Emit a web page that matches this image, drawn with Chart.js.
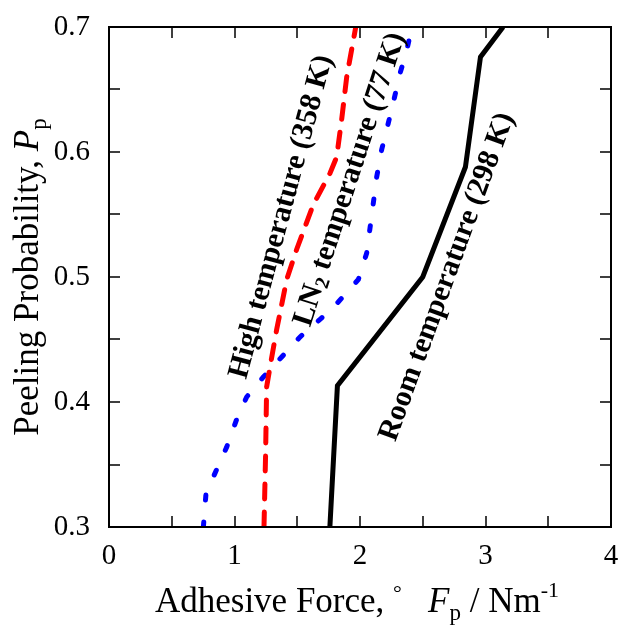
<!DOCTYPE html>
<html>
<head>
<meta charset="utf-8">
<script src="https://cdn.jsdelivr.net/npm/chart.js@4.4.1/dist/chart.umd.min.js"></script>
<style>
body{margin:0;background:#fff}
</style>
</head>
<body>
<canvas id="chart" width="619" height="629"></canvas>
<script>
// values
let roomForce=[1.76,1.82,2.50,2.84,2.96,3.14]
let roomProb=[0.300,0.413,0.500,0.588,0.676,0.700]

let highForce=[1.235,1.248,1.256,1.283,1.336,1.416,1.495,1.628,1.761,1.814,1.854,1.894,1.968]
let highProb=[0.300,0.359,0.412,0.428,0.458,0.498,0.522,0.558,0.583,0.596,0.626,0.660,0.701]

let ln2Force=[0.752,0.773,0.858,0.938,1.017,1.097,1.230,1.376,1.522,1.681,1.827,1.987,2.053,2.106,2.133,2.173,2.218,2.271,2.319,2.367,2.412]
let ln2Prob=[0.300,0.327,0.346,0.364,0.386,0.404,0.420,0.436,0.452,0.466,0.480,0.498,0.519,0.559,0.580,0.602,0.620,0.642,0.663,0.679,0.699]

let xTicks=[0,1,2,3,4]
let xTickLabels=["0","1","2","3","4"]
let xMinorTicks=[0,0.5,1,1.5,2,2.5,3,3.5,4]
let yTicks=[0.3,0.4,0.5,0.6,0.7]
let yTickLabels=["0.3","0.4","0.5","0.6","0.7"]
let yMinorTicks=[0.3,0.35,0.4,0.45,0.5,0.55,0.6,0.65,0.7]

// curve labels
let labelNames=["high","ln2","room"]
let labelForce=[1.375,1.920,2.695]
let labelProb=[0.548,0.578,0.500]

let serif="'Liberation Serif','Times New Roman',serif"

function pts(xs,ys){
    return xs.map((x,i)=>({x:x,y:ys[i]}))
}

function drawRich(ctx,parts,x,y){
    let total=0
    parts.forEach(p=>{ctx.font=p.font;total+=ctx.measureText(p.t).width})
    let cx=x-total/2
    parts.forEach(p=>{
        ctx.font=p.font
        ctx.fillText(p.t,cx,y+(p.dy||0))
        cx+=ctx.measureText(p.t).width
    })
}

let labelParts={
    high:{angle:-75,parts:[{t:"High temperature (358 K)",font:"bold 30px "+serif}]},
    ln2:{angle:-72,parts:[
        {t:"LN",font:"bold 30px "+serif},
        {t:"2",font:"bold 20px "+serif,dy:7},
        {t:" temperature (77 K)",font:"bold 30px "+serif}]},
    room:{angle:-70,parts:[{t:"Room temperature (298 K)",font:"bold 30px "+serif}]}
}

let decor={
    id:"decor",
    afterDraw(chart){
        let ctx=chart.ctx
        let a=chart.chartArea
        let xs=chart.scales.x, ys=chart.scales.y
        ctx.save()
        ctx.strokeStyle="#000"
        // inward ticks on all sides
        ctx.lineWidth=1.5
        ctx.beginPath()
        xMinorTicks.forEach(v=>{
            let px=Math.round(xs.getPixelForValue(v))
            ctx.moveTo(px,a.bottom);ctx.lineTo(px,a.bottom-11)
            ctx.moveTo(px,a.top);ctx.lineTo(px,a.top+11)
        })
        yMinorTicks.forEach(v=>{
            let py=Math.round(ys.getPixelForValue(v))
            ctx.moveTo(a.left,py);ctx.lineTo(a.left+11,py)
            ctx.moveTo(a.right,py);ctx.lineTo(a.right-11,py)
        })
        ctx.stroke()
        // frame
        ctx.lineWidth=2
        ctx.strokeRect(a.left,a.top,a.right-a.left,a.bottom-a.top)

        ctx.fillStyle="#000"
        ctx.textBaseline="alphabetic"
        // x title
        drawRich(ctx,[
            {t:"Adhesive Force, ",font:"35px "+serif},
            {t:"°",font:"22px "+serif,dy:-12},
            {t:"   ",font:"35px "+serif},
            {t:"F",font:"italic 35px "+serif},
            {t:"p",font:"23px "+serif,dy:8},
            {t:" / Nm",font:"35px "+serif},
            {t:"-1",font:"22px "+serif,dy:-15}
        ],(a.left+a.right)/2-3,612)
        // y title
        ctx.save()
        ctx.translate(38,(a.top+a.bottom)/2)
        ctx.rotate(-Math.PI/2)
        drawRich(ctx,[
            {t:"Peeling Probability, ",font:"35px "+serif},
            {t:"P",font:"italic 35px "+serif},
            {t:"p",font:"23px "+serif,dy:8}
        ],0,0)
        ctx.restore()
        // curve labels
        ctx.textBaseline="middle"
        labelNames.forEach((n,i)=>{
            let L=labelParts[n]
            ctx.save()
            ctx.translate(xs.getPixelForValue(labelForce[i]),ys.getPixelForValue(labelProb[i]))
            ctx.rotate(L.angle*Math.PI/180)
            drawRich(ctx,L.parts,0,0)
            ctx.restore()
        })
        ctx.restore()
    }
}

new Chart(document.getElementById("chart"),{
    type:"scatter",
    data:{
        datasets:[
            {label:"Room",data:pts(roomForce,roomProb),showLine:true,borderColor:"#000",borderWidth:5,pointRadius:0,tension:0},
            {label:"High",data:pts(highForce,highProb),showLine:true,borderColor:"#ff0000",borderWidth:5,borderDash:[15,13],borderCapStyle:"round",pointRadius:0,tension:0},
            {label:"LN2",data:pts(ln2Force,ln2Prob),showLine:true,borderColor:"#0000ff",borderWidth:5,borderDash:[5,22],borderCapStyle:"round",pointRadius:0,tension:0}
        ]
    },
    options:{
        responsive:false,
        animation:false,
        devicePixelRatio:1,
        layout:{padding:{left:0,top:27,right:8,bottom:0}},
        plugins:{legend:{display:false},tooltip:{enabled:false}},
        scales:{
            x:{
                type:"linear",min:0,max:4,
                afterBuildTicks:s=>{s.ticks=xTicks.map(v=>({value:v}))},
                afterFit:s=>{s.height=102;s.paddingLeft=0;s.paddingRight=0},
                grid:{display:false,drawTicks:false},
                border:{display:false},
                ticks:{padding:12,color:"#000",font:{family:serif,size:29},maxRotation:0,callback:(v,i)=>xTickLabels[i]}
            },
            y:{
                type:"linear",min:0.3,max:0.7,
                afterBuildTicks:s=>{s.ticks=yTicks.map(v=>({value:v}))},
                afterFit:s=>{s.width=109;s.paddingTop=0;s.paddingBottom=0},
                grid:{display:false,drawTicks:false},
                border:{display:false},
                ticks:{padding:19,color:"#000",font:{family:serif,size:29},callback:(v,i)=>yTickLabels[i]}
            }
        }
    },
    plugins:[decor]
})
</script>
</body>
</html>
